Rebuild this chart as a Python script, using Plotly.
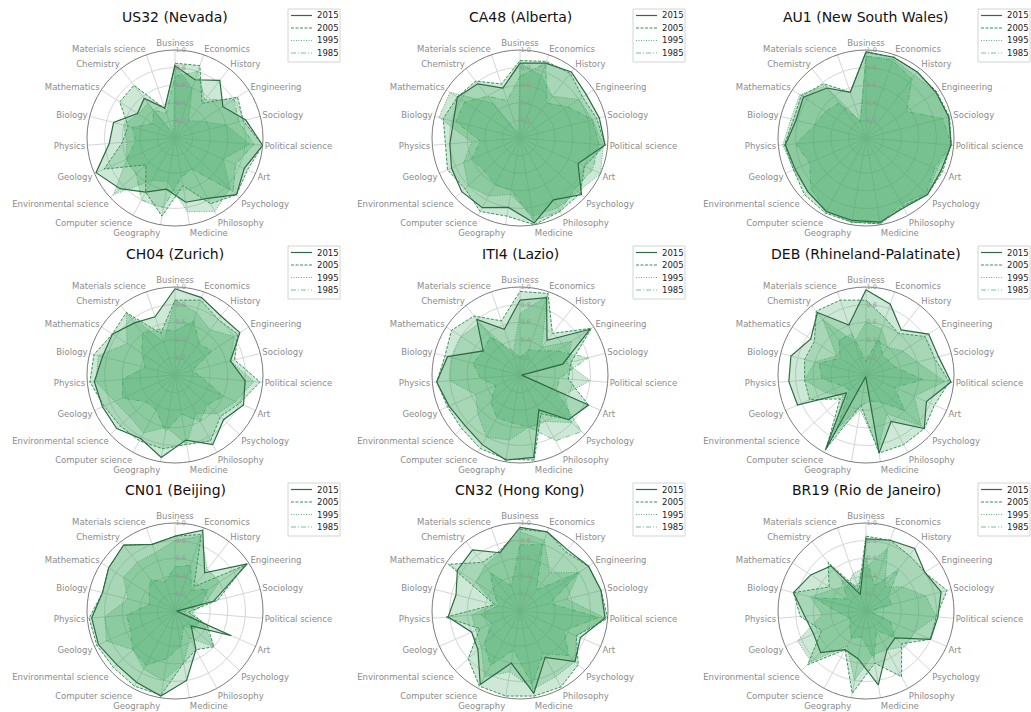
import plotly.graph_objects as go

# Subject areas around each radar, clockwise from the top
categories = ["Business", "Economics", "History", "Engineering", "Sociology",
              "Political science", "Art", "Psychology", "Philosophy", "Medicine",
              "Geography", "Computer science", "Environmental science", "Geology",
              "Physics", "Biology", "Mathematics", "Chemistry", "Materials science"]
years = ["2015", "2005", "1995", "1985"]
radial_ticks = [0.2, 0.4, 0.6, 0.8, 1.0]
radial_labels = ["0.2", "0.4", "0.6", "0.8", "1.0"]

titles = ["US32 (Nevada)", "CA48 (Alberta)", "AU1 (New South Wales)",
          "CH04 (Zurich)", "ITI4 (Lazio)", "DEB (Rhineland-Palatinate)",
          "CN01 (Beijing)", "CN32 (Hong Kong)", "BR19 (Rio de Janeiro)"]

# One row per year (2015, 2005, 1995, 1985), values in category order
us32 = [
    [0.82, 0.70, 0.83, 0.65, 0.83, 1.00, 0.86, 0.95, 0.78, 0.74, 0.59, 0.70, 0.85, 0.98, 0.75, 0.72, 0.51, 0.57, 0.36],
    [0.85, 0.87, 0.50, 0.85, 0.80, 1.00, 0.90, 0.95, 0.85, 0.55, 0.90, 0.70, 0.45, 0.88, 0.60, 0.55, 0.75, 0.76, 0.35],
    [0.83, 0.60, 0.25, 0.35, 0.60, 0.85, 0.60, 0.85, 0.95, 0.85, 0.50, 0.55, 0.95, 0.60, 0.55, 0.60, 0.50, 0.50, 0.05],
    [0.70, 0.80, 0.55, 0.80, 0.75, 0.90, 0.75, 0.90, 0.40, 0.45, 0.80, 0.80, 0.60, 0.60, 0.45, 0.50, 0.30, 0.40, 0.30],
]
ca48 = [
    [0.85, 0.90, 0.95, 0.90, 0.93, 0.97, 0.72, 0.95, 0.80, 0.98, 0.80, 0.90, 0.90, 0.85, 0.80, 0.78, 0.85, 0.78, 0.60],
    [0.88, 0.92, 0.93, 0.85, 0.90, 0.97, 0.80, 0.93, 0.95, 1.00, 0.90, 0.95, 0.85, 0.90, 0.85, 0.90, 0.85, 0.82, 0.65],
    [0.85, 0.75, 0.60, 0.80, 0.85, 0.95, 1.00, 0.90, 0.90, 0.90, 0.65, 0.75, 0.80, 0.70, 0.55, 0.95, 0.95, 0.50, 0.05],
    [0.70, 0.90, 0.50, 0.65, 0.85, 0.90, 0.90, 0.85, 0.95, 0.95, 0.60, 0.60, 0.55, 0.60, 0.45, 0.75, 0.75, 0.60, 0.45],
]
au1 = [
    [0.98, 0.97, 0.95, 0.95, 0.97, 0.97, 0.93, 0.95, 0.90, 0.97, 0.95, 0.95, 0.90, 0.88, 0.92, 0.82, 0.85, 0.72, 0.55],
    [0.97, 0.97, 0.95, 0.96, 0.98, 0.97, 0.95, 0.95, 0.88, 0.99, 0.97, 0.97, 0.95, 0.90, 0.93, 0.85, 0.88, 0.78, 0.55],
    [0.93, 0.95, 0.90, 0.95, 0.97, 0.98, 0.88, 0.95, 0.90, 0.98, 0.97, 0.95, 0.90, 0.90, 0.95, 0.88, 0.90, 0.75, 0.20],
    [0.93, 0.93, 0.85, 0.55, 0.90, 0.97, 0.85, 0.93, 0.85, 0.98, 0.97, 0.95, 0.85, 0.70, 0.80, 0.60, 0.55, 0.50, 0.20],
]
ch04 = [
    [0.98, 0.93, 0.85, 0.88, 0.65, 0.80, 0.85, 0.75, 0.90, 0.75, 0.95, 0.82, 0.90, 0.90, 0.92, 0.85, 0.85, 0.75, 0.70],
    [0.85, 0.90, 0.80, 0.85, 0.70, 0.97, 0.80, 0.70, 0.85, 0.80, 0.85, 0.85, 0.85, 0.88, 0.97, 0.95, 0.85, 0.90, 0.50],
    [0.85, 0.75, 0.65, 0.80, 0.65, 0.90, 0.75, 0.65, 0.50, 0.80, 0.60, 0.75, 0.70, 0.75, 0.90, 0.90, 0.65, 0.90, 0.40],
    [0.50, 0.65, 0.45, 0.50, 0.20, 0.30, 0.60, 0.50, 0.60, 0.45, 0.65, 0.45, 0.45, 0.65, 0.60, 0.35, 0.45, 0.60, 0.55],
]
iti4 = [
    [0.85, 0.93, 0.50, 0.95, 0.50, 0.02, 0.85, 0.75, 0.45, 0.95, 0.98, 0.90, 0.85, 0.88, 0.95, 0.85, 0.50, 0.80, 0.55],
    [0.95, 0.98, 0.60, 0.97, 0.60, 0.55, 0.85, 0.75, 0.50, 0.98, 0.97, 0.95, 0.90, 0.90, 0.95, 0.88, 0.93, 0.85, 0.65],
    [0.70, 0.95, 0.40, 0.70, 0.55, 0.80, 0.55, 0.80, 0.60, 0.60, 0.75, 0.80, 0.65, 0.55, 0.80, 0.80, 0.80, 0.75, 0.25],
    [0.20, 0.30, 0.35, 0.50, 0.80, 0.45, 0.45, 0.95, 0.85, 0.60, 0.55, 0.55, 0.45, 0.30, 0.45, 0.55, 0.50, 0.55, 0.30],
]
deb = [
    [0.97, 0.85, 0.65, 0.85, 0.85, 0.97, 0.75, 0.90, 0.60, 0.90, 0.02, 0.97, 0.30, 0.85, 0.88, 0.88, 0.75, 0.90, 0.60],
    [0.85, 0.68, 0.60, 0.80, 0.80, 0.95, 0.85, 0.90, 0.90, 0.90, 0.35, 0.95, 0.40, 0.70, 0.70, 0.72, 0.70, 0.92, 0.90],
    [0.60, 0.55, 0.40, 0.50, 0.60, 0.90, 0.60, 0.85, 0.50, 0.85, 0.40, 0.80, 0.35, 0.50, 0.70, 0.60, 0.40, 0.80, 0.40],
    [0.15, 0.45, 0.30, 0.30, 0.35, 0.65, 0.35, 0.60, 0.35, 0.30, 0.35, 0.70, 0.25, 0.30, 0.50, 0.55, 0.35, 0.50, 0.50],
]
cn01 = [
    [0.85, 0.97, 0.55, 0.98, 0.45, 0.02, 0.70, 0.25, 0.50, 0.80, 0.98, 0.92, 0.90, 0.95, 0.95, 0.85, 0.90, 0.95, 0.80],
    [0.85, 0.92, 0.35, 0.95, 0.50, 0.15, 0.40, 0.60, 0.50, 0.60, 0.97, 0.97, 0.95, 0.97, 0.98, 0.85, 0.90, 0.95, 0.80],
    [0.80, 0.90, 0.60, 0.60, 0.35, 0.20, 0.35, 0.60, 0.35, 0.60, 0.80, 0.75, 0.65, 0.85, 0.80, 0.55, 0.70, 0.70, 0.70],
    [0.50, 0.55, 0.30, 0.45, 0.30, 0.10, 0.30, 0.30, 0.20, 0.40, 0.55, 0.70, 0.65, 0.55, 0.55, 0.30, 0.35, 0.45, 0.35],
]
cn32 = [
    [0.95, 0.95, 0.88, 0.93, 0.95, 0.97, 0.75, 0.85, 0.60, 0.95, 0.60, 0.95, 0.65, 0.60, 0.82, 0.75, 0.85, 0.88, 0.70],
    [0.93, 0.95, 0.85, 0.93, 0.95, 1.00, 0.70, 0.90, 0.98, 0.98, 0.98, 0.97, 0.80, 0.50, 0.85, 0.30, 0.97, 0.70, 0.72],
    [0.90, 0.85, 0.55, 0.80, 0.55, 0.97, 0.70, 0.85, 0.85, 0.90, 0.70, 0.85, 0.60, 0.55, 0.55, 0.30, 0.60, 0.65, 0.70],
    [0.75, 0.80, 0.30, 0.80, 0.35, 0.90, 0.55, 0.75, 0.55, 0.85, 0.45, 0.70, 0.55, 0.35, 0.45, 0.25, 0.35, 0.55, 0.30],
]
br19 = [
    [0.82, 0.85, 0.90, 0.80, 0.88, 0.82, 0.80, 0.45, 0.50, 0.85, 0.55, 0.50, 0.70, 0.65, 0.70, 0.85, 0.75, 0.65, 0.20],
    [0.85, 0.85, 0.80, 0.80, 0.95, 0.80, 0.80, 0.55, 0.85, 0.60, 0.95, 0.50, 0.90, 0.55, 0.75, 0.85, 0.50, 0.70, 0.25],
    [0.50, 0.75, 0.35, 0.50, 0.70, 0.80, 0.60, 0.60, 0.50, 0.50, 0.80, 0.45, 0.85, 0.85, 0.50, 0.65, 0.45, 0.35, 0.45],
    [0.60, 0.30, 0.60, 0.30, 0.30, 0.05, 0.30, 0.45, 0.25, 0.55, 0.30, 0.35, 0.25, 0.20, 0.30, 0.60, 0.25, 0.45, 0.30],
]
regions = [us32, ca48, au1, ch04, iti4, deb, cn01, cn32, br19]

# Styling per year
line_colors = ["#2d6b42", "#3a9158", "#4fae70", "#62c084"]
fill_color = "rgba(60,165,95,0.26)"
dashes = ["solid", "3px,1.5px", "1px,1.5px", "5px,2px,1px,2px"]
widths = [1.2, 1.0, 0.9, 0.9]

W, H = 1031, 712
col_cx = [175, 520, 866]      # pixel centres of the radar columns
row_cy = [138, 375, 611]      # pixel centres of the radar rows
R = 88                        # radar radius in pixels
title_y = [17, 254, 490]
legend_left = [288, 633, 978]
legend_top = [9, 246, 483]
LEG_W, LEG_H = 52, 53
entry_dy = [6.5, 19, 31.5, 44]


def px(x):
    return x / W


def py(y):
    return 1 - y / H


fig = go.Figure()
annotations, shapes = [], []
layout = dict(width=W, height=H, margin=dict(l=0, r=0, t=0, b=0),
              paper_bgcolor="white", plot_bgcolor="white", showlegend=False,
              font=dict(family="DejaVu Sans"))

for i, data in enumerate(regions):
    row, col = divmod(i, 3)
    pk = "polar" if i == 0 else f"polar{i + 1}"
    # oldest first so the 2015 outline sits on top
    for k in reversed(range(len(years))):
        vals = data[k]
        fig.add_trace(go.Scatterpolar(
            r=vals + [vals[0]], theta=categories + [categories[0]],
            mode="lines", fill="toself", fillcolor=fill_color,
            line=dict(color=line_colors[k], width=widths[k], dash=dashes[k]),
            name=years[k], subplot=pk, hoverinfo="skip"))
    cx, cy = col_cx[col], row_cy[row]
    layout[pk] = dict(
        domain=dict(x=[px(cx - R), px(cx + R)], y=[py(cy + R), py(cy - R)]),
        bgcolor="white",
        angularaxis=dict(type="category", categoryarray=categories,
                         direction="clockwise", rotation=90, ticks="",
                         tickfont=dict(size=8.5, color="#8c8c8c"),
                         showline=True, linecolor="#5a5a5a", linewidth=0.8,
                         gridcolor="#d6d6d6", gridwidth=0.8),
        radialaxis=dict(range=[0, 1], tickvals=radial_ticks, ticktext=radial_labels,
                        angle=90, tickangle=90, side="clockwise", ticks="",
                        showline=False, tickfont=dict(size=6.5, color="#9a9a9a"),
                        gridcolor="#d6d6d6", gridwidth=0.8),
    )
    annotations.append(dict(
        text=titles[i], x=px(cx), y=py(title_y[row]), xref="paper", yref="paper",
        xanchor="center", yanchor="middle", showarrow=False,
        font=dict(size=14, color="#111")))

    # per-panel key: framed box with a line sample and year for each series
    lx, ly = legend_left[col], legend_top[row]
    shapes.append(dict(type="rect", xref="paper", yref="paper",
                       x0=px(lx), x1=px(lx + LEG_W), y0=py(ly + LEG_H), y1=py(ly),
                       line=dict(color="#d4d4d4", width=1),
                       fillcolor="rgba(255,255,255,0.85)", layer="above"))
    for k, year in enumerate(years):
        yy = ly + entry_dy[k]
        shapes.append(dict(type="line", xref="paper", yref="paper",
                           x0=px(lx + 3), x1=px(lx + 24), y0=py(yy), y1=py(yy),
                           line=dict(color=line_colors[k], width=widths[k], dash=dashes[k]),
                           layer="above"))
        annotations.append(dict(text=year, x=px(lx + 27), y=py(yy), xref="paper",
                                yref="paper", xanchor="left", yanchor="middle",
                                showarrow=False, font=dict(size=8.5, color="#222")))

layout["annotations"] = annotations
layout["shapes"] = shapes
fig.update_layout(**layout)
fig.write_html("out.html")
